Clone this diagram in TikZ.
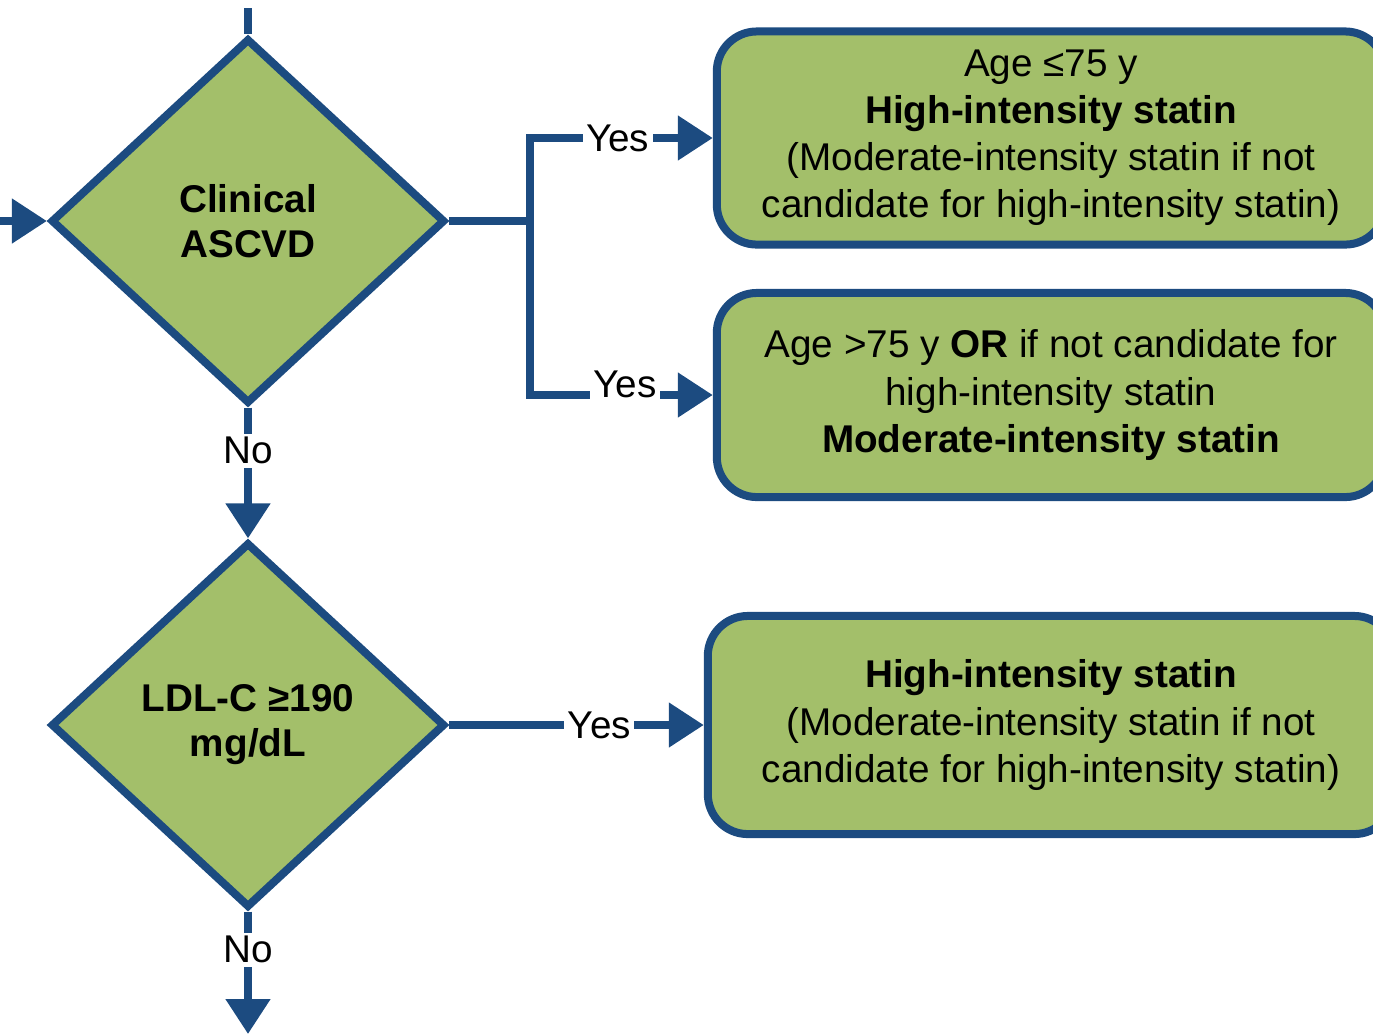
\documentclass[tikz,border=0pt]{standalone}
\usepackage{fontspec}
\setmainfont{Liberation Sans}
\usetikzlibrary{shapes.geometric, arrows.meta, positioning}
\definecolor{flowblue}{RGB}{28, 75, 128}
\definecolor{flowgreen}{RGB}{163, 191, 106}

\begin{document}
\begin{tikzpicture}[x=0.01cm, y=-0.01cm,
  decision/.style={diamond, draw=flowblue, fill=flowgreen, line width=0.08cm, minimum width=3.94cm, minimum height=3.65cm, inner sep=0pt, align=center, font=\fontsize{11}{12.8}\selectfont\bfseries},
  outcome/.style={draw=flowblue, fill=flowgreen, line width=0.08cm, rounded corners=0.4cm, align=center, font=\fontsize{11}{13.4}\selectfont},
  flow/.style={flowblue, line width=0.08cm, -{Triangle[length=0.35cm, width=0.43cm]}},
  link/.style={flowblue, line width=0.08cm},
  answer/.style={fill=white, text=black, inner sep=1pt, font=\fontsize{11}{13}\selectfont}]
\useasboundingbox (0,0) rectangle (1373,1035);

\node[decision] (ascvd) at (248,221) {Clinical\\ASCVD};
\node[decision] (ldl) at (248,725) {LDL-C ≥190\\mg/dL};

\node[outcome, minimum width=6.68cm, minimum height=2.13cm] (high) at (1051,138) {Age ≤75 y\\\textbf{High-intensity statin}\\(Moderate-intensity statin if not\\candidate for high-intensity statin)};
\node[outcome, minimum width=6.68cm, minimum height=2.04cm] (moderate) at (1051,395) {Age >75 y \textbf{OR} if not candidate for\\high-intensity statin\\\textbf{Moderate-intensity statin}};
\node[outcome, minimum width=6.86cm, minimum height=2.18cm] (ldlhigh) at (1051,725) {\textbf{High-intensity statin}\\(Moderate-intensity statin if not\\candidate for high-intensity statin)};

\coordinate (top) at (248,8);
\coordinate (in) at (-30,221);
\coordinate (split) at (530,221);
\coordinate (next) at (248,1034);

\draw[link] (top) -- (ascvd.north);
\draw[flow] (in) -- (ascvd.west);
\draw[link] (ascvd.east) -- (split);
\draw[flow] (split) |- node[answer, pos=0.74] {Yes} (high.west);
\draw[flow] (split) |- node[answer, pos=0.76, yshift=0.11cm] {Yes} (moderate.west);
\draw[flow] (ascvd.south) -- node[answer, pos=0.33] {No} (ldl.north);
\draw[flow] (ldl.east) -- node[answer, pos=0.59] {Yes} (ldlhigh.west);
\draw[flow] (ldl.south) -- node[answer, pos=0.31] {No} (next);
\end{tikzpicture}
\end{document}
